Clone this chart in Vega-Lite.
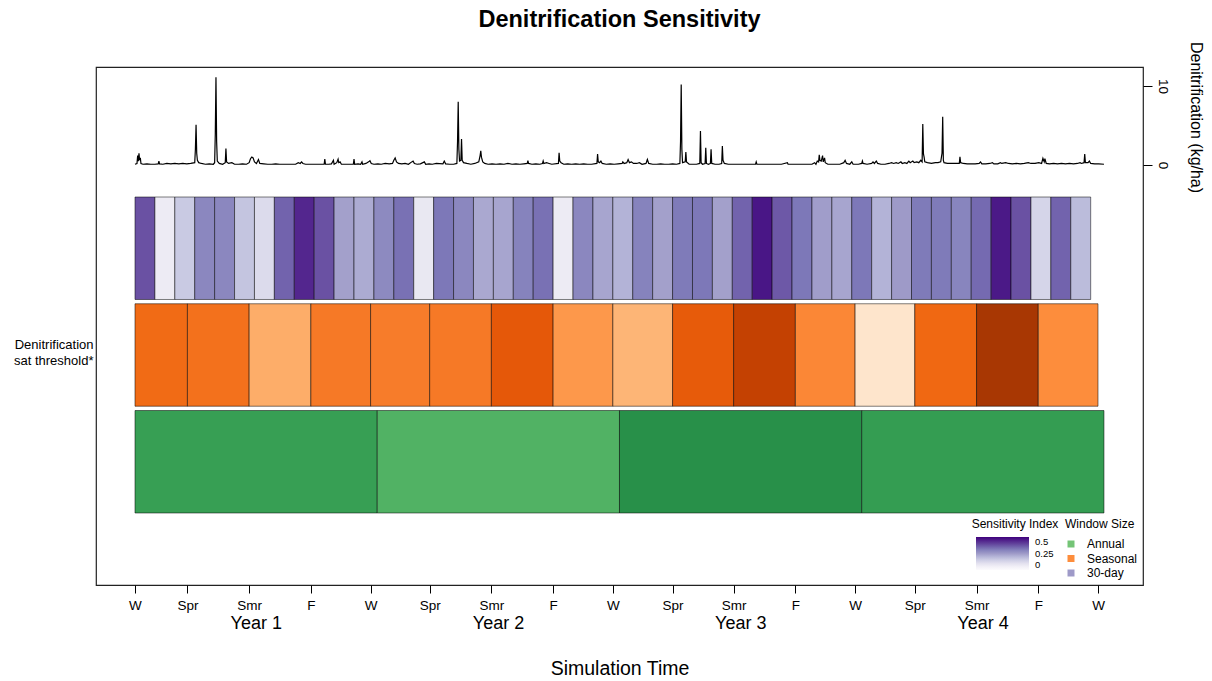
{
 "$schema": "https://vega.github.io/schema/vega-lite/v6.json",
 "width": 1047,
 "height": 518,
 "autosize": {"type": "none"},
 "padding": {"left": 96, "top": 67, "right": 69, "bottom": 96},
 "config": {"font": "Liberation Sans", "view": {"stroke": "#222", "strokeWidth": 1.2}, "axis": {"grid": false}},
 "title": {"text": "Denitrification Sensitivity", "fontSize": 23.5, "fontWeight": "bold", "anchor": "middle", "offset": 10, "color": "#000"},
 "datasets": {
  "bars": [
   {"window":"30-day","start":0,"end":30,"index":0.375},{"window":"30-day","start":30,"end":60,"index":0.07},{"window":"30-day","start":60,"end":90,"index":0.16},{"window":"30-day","start":90,"end":120,"index":0.29},
   {"window":"30-day","start":120,"end":150,"index":0.29},{"window":"30-day","start":150,"end":180,"index":0.17},{"window":"30-day","start":180,"end":210,"index":0.12},{"window":"30-day","start":210,"end":240,"index":0.35},
   {"window":"30-day","start":240,"end":270,"index":0.44},{"window":"30-day","start":270,"end":300,"index":0.375},{"window":"30-day","start":300,"end":330,"index":0.24},{"window":"30-day","start":330,"end":360,"index":0.22},
   {"window":"30-day","start":360,"end":390,"index":0.285},{"window":"30-day","start":390,"end":420,"index":0.33},{"window":"30-day","start":420,"end":450,"index":0.08},{"window":"30-day","start":450,"end":480,"index":0.32},
   {"window":"30-day","start":480,"end":510,"index":0.29},{"window":"30-day","start":510,"end":540,"index":0.225},{"window":"30-day","start":540,"end":570,"index":0.23},{"window":"30-day","start":570,"end":600,"index":0.3},
   {"window":"30-day","start":600,"end":630,"index":0.33},{"window":"30-day","start":630,"end":660,"index":0.07},{"window":"30-day","start":660,"end":690,"index":0.29},{"window":"30-day","start":690,"end":720,"index":0.23},
   {"window":"30-day","start":720,"end":750,"index":0.205},{"window":"30-day","start":750,"end":780,"index":0.3},{"window":"30-day","start":780,"end":810,"index":0.24},{"window":"30-day","start":810,"end":840,"index":0.315},
   {"window":"30-day","start":840,"end":870,"index":0.32},{"window":"30-day","start":870,"end":900,"index":0.24},{"window":"30-day","start":900,"end":930,"index":0.35},{"window":"30-day","start":930,"end":960,"index":0.47},
   {"window":"30-day","start":960,"end":990,"index":0.365},{"window":"30-day","start":990,"end":1020,"index":0.32},{"window":"30-day","start":1020,"end":1050,"index":0.245},{"window":"30-day","start":1050,"end":1080,"index":0.23},
   {"window":"30-day","start":1080,"end":1110,"index":0.32},{"window":"30-day","start":1110,"end":1140,"index":0.205},{"window":"30-day","start":1140,"end":1170,"index":0.25},{"window":"30-day","start":1170,"end":1200,"index":0.315},
   {"window":"30-day","start":1200,"end":1230,"index":0.315},{"window":"30-day","start":1230,"end":1260,"index":0.295},{"window":"30-day","start":1260,"end":1290,"index":0.34},{"window":"30-day","start":1290,"end":1320,"index":0.465},
   {"window":"30-day","start":1320,"end":1350,"index":0.375},{"window":"30-day","start":1350,"end":1380,"index":0.135},{"window":"30-day","start":1380,"end":1410,"index":0.35},{"window":"30-day","start":1410,"end":1440,"index":0.19},
   {"window":"Seasonal","start":0,"end":79,"index":0.31},{"window":"Seasonal","start":79,"end":172,"index":0.3},{"window":"Seasonal","start":172,"end":265,"index":0.19},{"window":"Seasonal","start":265,"end":355,"index":0.285},
   {"window":"Seasonal","start":355,"end":444,"index":0.28},{"window":"Seasonal","start":444,"end":537,"index":0.285},{"window":"Seasonal","start":537,"end":630,"index":0.345},{"window":"Seasonal","start":630,"end":720,"index":0.23},
   {"window":"Seasonal","start":720,"end":810,"index":0.175},{"window":"Seasonal","start":810,"end":902,"index":0.34},{"window":"Seasonal","start":902,"end":995,"index":0.4},{"window":"Seasonal","start":995,"end":1085,"index":0.26},
   {"window":"Seasonal","start":1085,"end":1175,"index":0.065},{"window":"Seasonal","start":1175,"end":1268,"index":0.315},{"window":"Seasonal","start":1268,"end":1361,"index":0.435},{"window":"Seasonal","start":1361,"end":1451,"index":0.25},
   {"window":"Annual","start":0,"end":365,"index":0.335},{"window":"Annual","start":365,"end":730,"index":0.295},{"window":"Annual","start":730,"end":1095,"index":0.365},{"window":"Annual","start":1095,"end":1460,"index":0.34}
  ],
  "denit": [
   {"day":0,"denit":0.1},{"day":3,"denit":0.2},{"day":4,"denit":1.2},{"day":5,"denit":0.5},{"day":6,"denit":1.5},{"day":7,"denit":0.6},{"day":8,"denit":0.9},{"day":9,"denit":0.2},{"day":12,"denit":0.1},{"day":18,"denit":0.15},
   {"day":24,"denit":0.1},{"day":30,"denit":0.1},{"day":35,"denit":0.15},{"day":36,"denit":0.5},{"day":37,"denit":0.15},{"day":42,"denit":0.1},{"day":48,"denit":0.2},{"day":54,"denit":0.15},{"day":60,"denit":0.2},{"day":66,"denit":0.15},
   {"day":72,"denit":0.2},{"day":78,"denit":0.15},{"day":84,"denit":0.2},{"day":90,"denit":0.3},{"day":91,"denit":2},{"day":92,"denit":5.1},{"day":93,"denit":1.5},{"day":94,"denit":0.6},{"day":96,"denit":0.3},{"day":100,"denit":0.2},
   {"day":106,"denit":0.1},{"day":112,"denit":0.15},{"day":118,"denit":0.1},{"day":120,"denit":0.3},{"day":121,"denit":4},{"day":122,"denit":11.1},{"day":123,"denit":3},{"day":124,"denit":0.5},{"day":127,"denit":0.2},{"day":132,"denit":0.1},
   {"day":136,"denit":0.3},{"day":137,"denit":2.1},{"day":138,"denit":0.4},{"day":141,"denit":0.2},{"day":146,"denit":0.3},{"day":150,"denit":0.1},{"day":156,"denit":0.1},{"day":162,"denit":0.15},{"day":168,"denit":0.1},{"day":172,"denit":0.3},
   {"day":174,"denit":0.8},{"day":176,"denit":1.0},{"day":178,"denit":0.9},{"day":180,"denit":0.4},{"day":183,"denit":0.2},{"day":186,"denit":0.7},{"day":188,"denit":0.2},{"day":194,"denit":0.15},{"day":200,"denit":0.1},{"day":206,"denit":0.1},
   {"day":212,"denit":0.15},{"day":218,"denit":0.1},{"day":224,"denit":0.1},{"day":230,"denit":0.1},{"day":236,"denit":0.1},{"day":242,"denit":0.1},{"day":246,"denit":0.3},{"day":249,"denit":0.2},{"day":251,"denit":0.4},{"day":253,"denit":0.2},
   {"day":257,"denit":0.1},{"day":263,"denit":0.1},{"day":268,"denit":0.1},{"day":274,"denit":0.1},{"day":280,"denit":0.1},{"day":285,"denit":0.1},{"day":286,"denit":0.75},{"day":287,"denit":0.1},{"day":292,"denit":0.1},{"day":296,"denit":0.15},
   {"day":299,"denit":0.6},{"day":300,"denit":0.1},{"day":304,"denit":0.3},{"day":306,"denit":0.75},{"day":307,"denit":0.3},{"day":309,"denit":0.4},{"day":311,"denit":0.1},{"day":316,"denit":0.1},{"day":322,"denit":0.1},{"day":329,"denit":0.1},
   {"day":330,"denit":0.75},{"day":331,"denit":0.1},{"day":336,"denit":0.15},{"day":340,"denit":0.1},{"day":342,"denit":0.4},{"day":343,"denit":0.1},{"day":348,"denit":0.2},{"day":352,"denit":0.4},{"day":354,"denit":0.55},{"day":356,"denit":0.2},
   {"day":360,"denit":0.1},{"day":366,"denit":0.15},{"day":371,"denit":0.1},{"day":377,"denit":0.2},{"day":383,"denit":0.15},{"day":388,"denit":0.2},{"day":390,"denit":0.6},{"day":392,"denit":0.9},{"day":394,"denit":0.4},{"day":397,"denit":0.2},
   {"day":402,"denit":0.15},{"day":407,"denit":0.2},{"day":412,"denit":0.1},{"day":417,"denit":0.4},{"day":419,"denit":0.5},{"day":421,"denit":0.2},{"day":425,"denit":0.1},{"day":430,"denit":0.15},{"day":436,"denit":0.4},{"day":438,"denit":0.1},
   {"day":443,"denit":0.15},{"day":448,"denit":0.1},{"day":454,"denit":0.2},{"day":464,"denit":0.15},{"day":466,"denit":0.5},{"day":468,"denit":0.15},{"day":474,"denit":0.1},{"day":480,"denit":0.1},{"day":485,"denit":0.2},{"day":486,"denit":3},
   {"day":487,"denit":8.0},{"day":488,"denit":2},{"day":489,"denit":0.5},{"day":491,"denit":0.6},{"day":492,"denit":3.3},{"day":493,"denit":0.6},{"day":495,"denit":0.3},{"day":500,"denit":0.2},{"day":506,"denit":0.1},{"day":512,"denit":0.2},
   {"day":518,"denit":0.4},{"day":520,"denit":1.2},{"day":521,"denit":1.8},{"day":522,"denit":1.0},{"day":524,"denit":0.4},{"day":527,"denit":0.2},{"day":532,"denit":0.1},{"day":538,"denit":0.15},{"day":544,"denit":0.1},{"day":550,"denit":0.15},
   {"day":556,"denit":0.1},{"day":562,"denit":0.2},{"day":568,"denit":0.1},{"day":574,"denit":0.15},{"day":580,"denit":0.1},{"day":586,"denit":0.15},{"day":591,"denit":0.2},{"day":592,"denit":0.55},{"day":593,"denit":0.2},{"day":598,"denit":0.1},
   {"day":604,"denit":0.15},{"day":610,"denit":0.1},{"day":614,"denit":0.2},{"day":615,"denit":0.5},{"day":616,"denit":0.2},{"day":620,"denit":0.3},{"day":624,"denit":0.2},{"day":628,"denit":0.1},{"day":638,"denit":0.2},{"day":639,"denit":1.55},
   {"day":640,"denit":0.5},{"day":642,"denit":0.3},{"day":646,"denit":0.1},{"day":652,"denit":0.15},{"day":658,"denit":0.1},{"day":664,"denit":0.15},{"day":670,"denit":0.1},{"day":676,"denit":0.15},{"day":682,"denit":0.1},{"day":688,"denit":0.1},
   {"day":696,"denit":0.2},{"day":697,"denit":1.4},{"day":698,"denit":0.4},{"day":700,"denit":0.3},{"day":702,"denit":0.5},{"day":704,"denit":0.2},{"day":710,"denit":0.1},{"day":716,"denit":0.15},{"day":722,"denit":0.1},{"day":728,"denit":0.15},
   {"day":734,"denit":0.2},{"day":735,"denit":0.4},{"day":737,"denit":0.2},{"day":741,"denit":0.3},{"day":743,"denit":0.7},{"day":745,"denit":0.3},{"day":748,"denit":0.4},{"day":751,"denit":0.2},{"day":756,"denit":0.2},{"day":760,"denit":0.3},
   {"day":764,"denit":0.1},{"day":770,"denit":0.2},{"day":772,"denit":0.7},{"day":774,"denit":0.2},{"day":780,"denit":0.1},{"day":786,"denit":0.1},{"day":792,"denit":0.15},{"day":798,"denit":0.1},{"day":804,"denit":0.1},{"day":810,"denit":0.15},
   {"day":816,"denit":0.1},{"day":821,"denit":0.2},{"day":822,"denit":3},{"day":823,"denit":10.2},{"day":824,"denit":2},{"day":825,"denit":0.3},{"day":829,"denit":0.4},{"day":830,"denit":1.65},{"day":831,"denit":0.4},{"day":835,"denit":0.1},
   {"day":840,"denit":0.1},{"day":846,"denit":0.1},{"day":851,"denit":0.2},{"day":852,"denit":4.3},{"day":853,"denit":0.3},{"day":855,"denit":0.1},{"day":859,"denit":0.2},{"day":860,"denit":2.2},{"day":861,"denit":0.2},{"day":864,"denit":0.1},
   {"day":867,"denit":0.2},{"day":868,"denit":2.0},{"day":869,"denit":0.2},{"day":874,"denit":0.1},{"day":880,"denit":0.1},{"day":884,"denit":0.2},{"day":885,"denit":2.4},{"day":886,"denit":0.6},{"day":888,"denit":0.2},{"day":894,"denit":0.1},
   {"day":900,"denit":0.1},{"day":906,"denit":0.1},{"day":912,"denit":0.1},{"day":918,"denit":0.1},{"day":924,"denit":0.1},{"day":930,"denit":0.1},{"day":935,"denit":0.1},{"day":936,"denit":0.4},{"day":937,"denit":0.1},{"day":942,"denit":0.1},
   {"day":948,"denit":0.1},{"day":956,"denit":0.1},{"day":966,"denit":0.1},{"day":974,"denit":0.1},{"day":983,"denit":0.3},{"day":984,"denit":0.1},{"day":992,"denit":0.1},{"day":1000,"denit":0.1},{"day":1008,"denit":0.1},{"day":1016,"denit":0.1},
   {"day":1020,"denit":0.1},{"day":1024,"denit":0.3},{"day":1026,"denit":0.1},{"day":1028,"denit":0.5},{"day":1030,"denit":0.4},{"day":1031,"denit":1.3},{"day":1032,"denit":0.6},{"day":1034,"denit":0.5},{"day":1036,"denit":1.2},{"day":1037,"denit":0.4},
   {"day":1039,"denit":0.9},{"day":1040,"denit":0.3},{"day":1044,"denit":0.1},{"day":1050,"denit":0.1},{"day":1056,"denit":0.1},{"day":1062,"denit":0.1},{"day":1068,"denit":0.3},{"day":1070,"denit":0.6},{"day":1072,"denit":0.2},{"day":1077,"denit":0.1},
   {"day":1080,"denit":0.4},{"day":1082,"denit":0.1},{"day":1090,"denit":0.1},{"day":1095,"denit":0.2},{"day":1096,"denit":0.5},{"day":1097,"denit":0.2},{"day":1103,"denit":0.1},{"day":1110,"denit":0.2},{"day":1112,"denit":0.4},{"day":1114,"denit":0.2},
   {"day":1117,"denit":0.5},{"day":1119,"denit":0.2},{"day":1124,"denit":0.1},{"day":1130,"denit":0.1},{"day":1136,"denit":0.2},{"day":1140,"denit":0.3},{"day":1143,"denit":0.2},{"day":1147,"denit":0.3},{"day":1150,"denit":0.2},{"day":1154,"denit":0.4},
   {"day":1156,"denit":0.2},{"day":1160,"denit":0.3},{"day":1163,"denit":0.2},{"day":1166,"denit":0.5},{"day":1168,"denit":0.3},{"day":1172,"denit":0.5},{"day":1174,"denit":0.3},{"day":1178,"denit":0.4},{"day":1181,"denit":0.3},{"day":1184,"denit":0.6},
   {"day":1186,"denit":0.4},{"day":1187,"denit":5.2},{"day":1188,"denit":1.4},{"day":1189,"denit":1.0},{"day":1190,"denit":0.4},{"day":1194,"denit":0.3},{"day":1200,"denit":0.2},{"day":1206,"denit":0.3},{"day":1210,"denit":0.3},{"day":1214,"denit":0.4},
   {"day":1216,"denit":1.5},{"day":1217,"denit":6.1},{"day":1218,"denit":0.6},{"day":1219,"denit":0.3},{"day":1224,"denit":0.2},{"day":1230,"denit":0.2},{"day":1236,"denit":0.2},{"day":1242,"denit":0.2},{"day":1243,"denit":1.05},{"day":1244,"denit":0.3},
   {"day":1248,"denit":0.2},{"day":1254,"denit":0.15},{"day":1260,"denit":0.15},{"day":1266,"denit":0.15},{"day":1272,"denit":0.2},{"day":1274,"denit":0.4},{"day":1276,"denit":0.15},{"day":1282,"denit":0.15},{"day":1288,"denit":0.2},{"day":1292,"denit":0.3},
   {"day":1294,"denit":0.15},{"day":1300,"denit":0.15},{"day":1304,"denit":0.3},{"day":1306,"denit":0.2},{"day":1312,"denit":0.3},{"day":1316,"denit":0.2},{"day":1322,"denit":0.15},{"day":1328,"denit":0.2},{"day":1334,"denit":0.15},{"day":1340,"denit":0.2},
   {"day":1346,"denit":0.3},{"day":1350,"denit":0.2},{"day":1356,"denit":0.2},{"day":1362,"denit":0.3},{"day":1366,"denit":0.2},{"day":1368,"denit":0.85},{"day":1370,"denit":0.4},{"day":1371,"denit":0.8},{"day":1373,"denit":0.2},{"day":1378,"denit":0.15},
   {"day":1384,"denit":0.2},{"day":1390,"denit":0.15},{"day":1396,"denit":0.2},{"day":1402,"denit":0.15},{"day":1408,"denit":0.2},{"day":1414,"denit":0.15},{"day":1420,"denit":0.2},{"day":1424,"denit":0.3},{"day":1426,"denit":0.2},{"day":1430,"denit":0.3},
   {"day":1431,"denit":1.4},{"day":1432,"denit":0.3},{"day":1436,"denit":0.3},{"day":1438,"denit":0.5},{"day":1440,"denit":0.2},{"day":1446,"denit":0.15},{"day":1452,"denit":0.15},{"day":1460,"denit":0.1}
  ],
  "years": [{"mid":182,"year":"Year 1"},{"mid":547,"year":"Year 2"},{"mid":912,"year":"Year 3"},{"mid":1277,"year":"Year 4"}]
 },
 "resolve": {"scale": {"y": "independent"}, "axis": {"x": "independent", "y": "independent"}},
 "layer": [
  {
   "data": {"name": "denit"},
   "mark": {"type": "line", "color": "#000", "strokeWidth": 1.2},
   "encoding": {
    "x": {"field": "day", "type": "quantitative", "scale": {"domain": [-58.76, 1518.8], "nice": false, "zero": false},
          "axis": {"orient": "bottom", "title": null, "values": [0,79,172,265,355,444,537,630,720,810,902,995,1085,1175,1268,1361,1451],
                   "labelExpr": "['W','Spr','Smr','F'][round(datum.index * 16) % 4]", "labelFontSize": 13.5,
                   "domain": false, "tickSize": 8, "tickColor": "#000", "labelPadding": 5, "labelColor": "#000", "labelFlush": false, "labelOverlap": false}},
    "y": {"field": "denit", "type": "quantitative", "scale": {"domain": [-53.16, 12.41], "nice": false, "zero": false},
          "axis": {"orient": "right", "values": [0, 10], "title": "Denitrification (kg/ha)", "titleAngle": 90, "titleFontSize": 16, "titleFontWeight": "normal", "titleColor": "#000",
                   "titleX": 52, "titleY": 50, "titleAlign": "center", "titleBaseline": "middle",
                   "labelAngle": 90, "labelFontSize": 13.5, "labelColor": "#000", "tickSize": 9, "tickColor": "#000", "domain": false, "labelPadding": 3}}
   }
  },
  {
   "data": {"name": "bars"},
   "encoding": {
    "x": {"field": "start", "type": "quantitative", "scale": {"domain": [-58.76, 1518.8], "nice": false, "zero": false}, "axis": null},
    "y": {"field": "window", "type": "nominal", "scale": {"domain": ["30-day", "Seasonal", "Annual"], "range": [130, 446], "paddingInner": 0.04, "paddingOuter": 0},
          "axis": {"orient": "left", "title": null, "domain": false, "ticks": false,
                   "labelExpr": "datum.value == 'Seasonal' ? ['Denitrification', 'sat threshold*'] : ''",
                   "labelFontSize": 13, "labelPadding": 3, "labelColor": "#000", "labelLineHeight": 16, "labelOffset": -10}}
   },
   "resolve": {"scale": {"color": "independent"}, "legend": {"color": "independent"}},
   "layer": [
    {
     "mark": {"type": "point", "shape": "square", "filled": true, "opacity": 1, "xOffset": 10, "size": 16},
     "encoding": {
      "color": {"field": "window", "type": "nominal", "scale": {"domain": ["Annual", "Seasonal", "30-day"], "range": ["#74c476", "#fd8d3c", "#9e9ac8"]},
                "legend": {"title": "Window Size", "orient": "none", "legendX": 969, "legendY": 452, "symbolType": "square", "symbolSize": 49, "symbolOpacity": 1,
                           "symbolStrokeWidth": 0, "labelFontSize": 12, "titleFontSize": 12, "titleFontWeight": "normal", "labelOffset": 10, "rowPadding": 2.5,
                           "titlePadding": 7, "titleColor": "#000", "labelColor": "#000", "padding": 0}}
     }
    },
    {
     "transform": [{"filter": "datum.window == '30-day'"}],
     "mark": {"type": "rect", "stroke": "#000", "strokeOpacity": 0.5, "strokeWidth": 1},
     "encoding": {
      "x2": {"field": "end"},
      "color": {"field": "index", "type": "quantitative",
                "scale": {"domain": [0, 0.0625, 0.125, 0.1875, 0.25, 0.3125, 0.375, 0.4375, 0.5], "range": ["#fcfbfd", "#efedf5", "#dadaeb", "#bcbddc", "#9e9ac8", "#807dba", "#6a51a3", "#54278f", "#3f007d"]},
                "legend": {"title": "Sensitivity Index", "orient": "none", "legendX": 876, "legendY": 452, "direction": "vertical", "gradientLength": 33, "gradientThickness": 53,
                           "values": [0, 0.25, 0.5], "labelExpr": "datum.value == 0.25 ? '0.25' : datum.value == 0.5 ? '0.5' : '0'", "labelFontSize": 9.5, "titleFontSize": 12, "titleFontWeight": "normal", "titleAnchor": "middle",
                           "titlePadding": 6, "gradientStrokeWidth": 0, "labelOffset": 6, "titleColor": "#000", "labelColor": "#000", "padding": 0}}
     }
    },
    {
     "transform": [{"filter": "datum.window == 'Seasonal'"}],
     "mark": {"type": "rect", "stroke": "#000", "strokeOpacity": 0.5, "strokeWidth": 1},
     "encoding": {
      "x2": {"field": "end"},
      "color": {"field": "index", "type": "quantitative",
                "scale": {"domain": [0, 0.0625, 0.125, 0.1875, 0.25, 0.3125, 0.375, 0.4375, 0.5], "range": ["#fff5eb", "#fee6ce", "#fdd0a2", "#fdae6b", "#fd8d3c", "#f16913", "#d94801", "#a63603", "#7f2704"]},
                "legend": null}
     }
    },
    {
     "transform": [{"filter": "datum.window == 'Annual'"}],
     "mark": {"type": "rect", "stroke": "#000", "strokeOpacity": 0.5, "strokeWidth": 1},
     "encoding": {
      "x2": {"field": "end"},
      "color": {"field": "index", "type": "quantitative",
                "scale": {"domain": [0, 0.0625, 0.125, 0.1875, 0.25, 0.3125, 0.375, 0.4375, 0.5], "range": ["#f7fcf5", "#e5f5e0", "#c7e9c0", "#a1d99b", "#74c476", "#41ab5d", "#238b45", "#006d2c", "#00441b"]},
                "legend": null}
     }
    }
   ]
  },
  {
   "data": {"name": "years"},
   "mark": {"type": "rule", "opacity": 0},
   "encoding": {
    "x": {"field": "mid", "type": "quantitative", "scale": {"domain": [-58.76, 1518.8], "nice": false, "zero": false},
          "axis": {"orient": "bottom", "values": [182, 547, 912, 1277], "labelExpr": "'Year ' + (indexof([182, 547, 912, 1277], datum.value) + 1)",
                   "domain": false, "ticks": false, "tickSize": 0, "labelPadding": 29, "labelFontSize": 18, "labelColor": "#000", "labelFlush": false,
                   "title": "Simulation Time", "titleFontSize": 19.5, "titleFontWeight": "normal", "titleColor": "#000", "titlePadding": 27}}
   }
  }
 ]
}
